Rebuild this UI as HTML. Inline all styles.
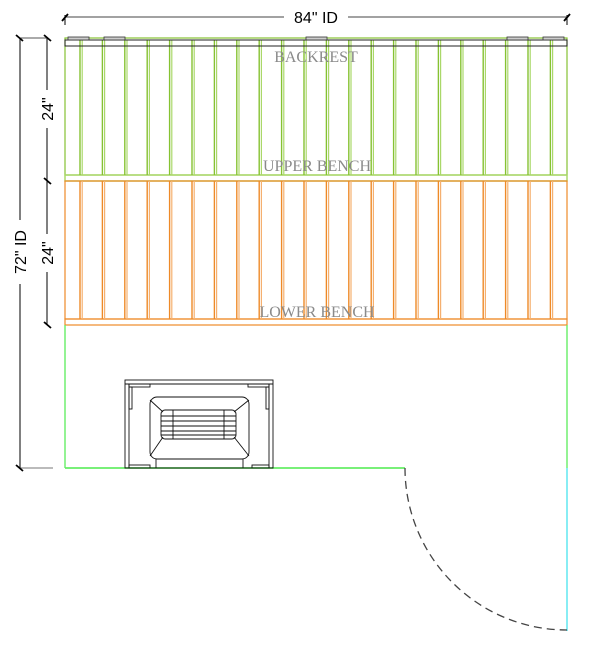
<!DOCTYPE html>
<html><head><meta charset="utf-8"><style>
html,body{margin:0;padding:0;background:#fff;width:600px;height:647px;overflow:hidden}
svg{display:block}
text{font-family:"Liberation Sans",sans-serif}
.lbl{font-family:"Liberation Serif",serif;font-size:16px;fill:#8a8a8a}
</style></head><body>
<svg width="600" height="647" viewBox="0 0 600 647" xmlns="http://www.w3.org/2000/svg">
<defs>
  <g id="gs"><line x1="0" y1="40" x2="0" y2="175" stroke="#86c232" stroke-width="1.4"/><line x1="2.2" y1="40" x2="2.2" y2="175" stroke="#aad86a" stroke-width="1.2"/></g>
  <g id="os"><line x1="0" y1="181" x2="0" y2="319" stroke="#ee8a28" stroke-width="1.4"/><line x1="2.2" y1="181" x2="2.2" y2="319" stroke="#f5b070" stroke-width="1.2"/></g>
  <g id="pair"><use href="#gs"/><use href="#os"/></g>
</defs>
<!-- top dimension -->
<line x1="65" y1="17" x2="567" y2="17" stroke="#444" stroke-width="1"/>
<line x1="65" y1="15" x2="65" y2="25" stroke="#000"/>
<line x1="567" y1="15" x2="567" y2="25" stroke="#000"/>
<line x1="62" y1="21" x2="68" y2="14" stroke="#000" stroke-width="1.8"/>
<line x1="564" y1="21" x2="570" y2="14" stroke="#000" stroke-width="1.8"/>
<rect x="284" y="8" width="64" height="18" fill="#fff"/>
<text x="316" y="23" font-size="16" text-anchor="middle">84" ID</text>

<!-- left dimensions -->
<line x1="20" y1="38" x2="20" y2="468" stroke="#000"/>
<line x1="20" y1="38" x2="47" y2="38" stroke="#555"/>
<line x1="20" y1="468" x2="53" y2="468" stroke="#777"/>
<line x1="16" y1="35" x2="23" y2="41" stroke="#000" stroke-width="1.8"/>
<line x1="16" y1="465" x2="23" y2="471" stroke="#000" stroke-width="1.8"/>
<line x1="47" y1="38" x2="47" y2="325" stroke="#000"/>
<line x1="44" y1="35" x2="51" y2="41" stroke="#000" stroke-width="1.8"/>
<line x1="44" y1="178" x2="51" y2="184" stroke="#000" stroke-width="1.8"/>
<line x1="44" y1="322" x2="51" y2="328" stroke="#000" stroke-width="1.8"/>
<rect x="11" y="220" width="18" height="64" fill="#fff"/>
<text transform="translate(26,252) rotate(-90)" font-size="16" text-anchor="middle">72" ID</text>
<rect x="38" y="90" width="18" height="38" fill="#fff"/>
<text transform="translate(53,109) rotate(-90)" font-size="16" text-anchor="middle">24"</text>
<rect x="38" y="234" width="18" height="38" fill="#fff"/>
<text transform="translate(53,253) rotate(-90)" font-size="16" text-anchor="middle">24"</text>

<rect x="65" y="38" width="502" height="137" fill="none" stroke="#86c232" stroke-width="1.2"/>
<rect x="65" y="175" width="502" height="6" fill="none" stroke="#aad86a" stroke-width="1.5"/>
<rect x="65" y="181" width="502" height="138" fill="none" stroke="#ee8a28" stroke-width="1.2"/>
<rect x="65" y="319" width="502" height="6" fill="none" stroke="#ee8a28" stroke-width="1.2"/>

<g>
<use href="#pair" x="80"/><use href="#pair" x="102.4"/><use href="#pair" x="124.8"/><use href="#pair" x="147.2"/>
<use href="#pair" x="169.6"/><use href="#pair" x="192"/><use href="#pair" x="214.4"/><use href="#pair" x="236.8"/>
<use href="#pair" x="259.2"/><use href="#pair" x="281.6"/><use href="#pair" x="304"/><use href="#pair" x="326.4"/>
<use href="#pair" x="348.8"/><use href="#pair" x="371.2"/><use href="#pair" x="393.6"/><use href="#pair" x="416"/>
<use href="#pair" x="438.4"/><use href="#pair" x="460.8"/><use href="#pair" x="483.2"/><use href="#pair" x="505.6"/>
<use href="#pair" x="528"/><use href="#pair" x="550.4"/>
</g>
<rect x="65" y="40" width="502" height="6" fill="none" stroke="#222" stroke-width="1"/>
<g fill="#ccc" stroke="#333" stroke-width="0.8">
<rect x="68" y="37" width="21" height="3"/><rect x="104" y="37" width="21" height="3"/>
<rect x="306" y="37" width="21" height="3"/><rect x="507" y="37" width="21" height="3"/>
<rect x="543" y="37" width="21" height="3"/>
</g>
<text class="lbl" x="316" y="62" text-anchor="middle">BACKREST</text>
<text class="lbl" x="317" y="171" text-anchor="middle">UPPER BENCH</text>
<text class="lbl" x="317" y="317" text-anchor="middle">LOWER BENCH</text>

<line x1="65" y1="325" x2="65" y2="468" stroke="#66ee66" stroke-width="1.4"/>
<line x1="65" y1="468" x2="405" y2="468" stroke="#66ee66" stroke-width="1.8"/>
<line x1="567" y1="325" x2="567" y2="468" stroke="#66ee66" stroke-width="1.4"/>
<line x1="567" y1="468" x2="567" y2="631" stroke="#55e5f0" stroke-width="1.4"/>
<path d="M405 468 A162 162 0 0 0 567 630" fill="none" stroke="#444" stroke-width="1.3" stroke-dasharray="8,5"/>

<g fill="none" stroke="#111" stroke-width="0.9">
<rect x="125" y="380" width="148" height="88"/>
<line x1="129" y1="384" x2="129" y2="468"/>
<line x1="269" y1="384" x2="269" y2="468"/>
<line x1="125" y1="384" x2="273" y2="384"/>
<rect x="129" y="384" width="21" height="3"/><rect x="248" y="384" width="21" height="3"/>
<rect x="129" y="387" width="3" height="22"/><rect x="266" y="387" width="3" height="22"/>
<rect x="129" y="465" width="21" height="3"/><rect x="252" y="465" width="17" height="3"/>
<rect x="150" y="397" width="99" height="62" rx="7"/>
<rect x="161" y="410" width="75" height="29" rx="4"/>
<line x1="150" y1="400" x2="163" y2="412"/><line x1="249" y1="400" x2="234" y2="412"/>
<line x1="150" y1="456" x2="163" y2="437"/><line x1="249" y1="456" x2="234" y2="437"/>
<line x1="173" y1="410" x2="173" y2="439"/><line x1="224" y1="410" x2="224" y2="439"/>
<line x1="161" y1="416" x2="236" y2="416"/><line x1="161" y1="421" x2="236" y2="421"/>
<line x1="161" y1="426" x2="236" y2="426"/><line x1="161" y1="431" x2="236" y2="431"/>
<line x1="161" y1="435" x2="236" y2="435"/>
<line x1="156" y1="459" x2="156" y2="468"/><line x1="243" y1="459" x2="243" y2="468"/>
</g>
</svg>
</body></html>
